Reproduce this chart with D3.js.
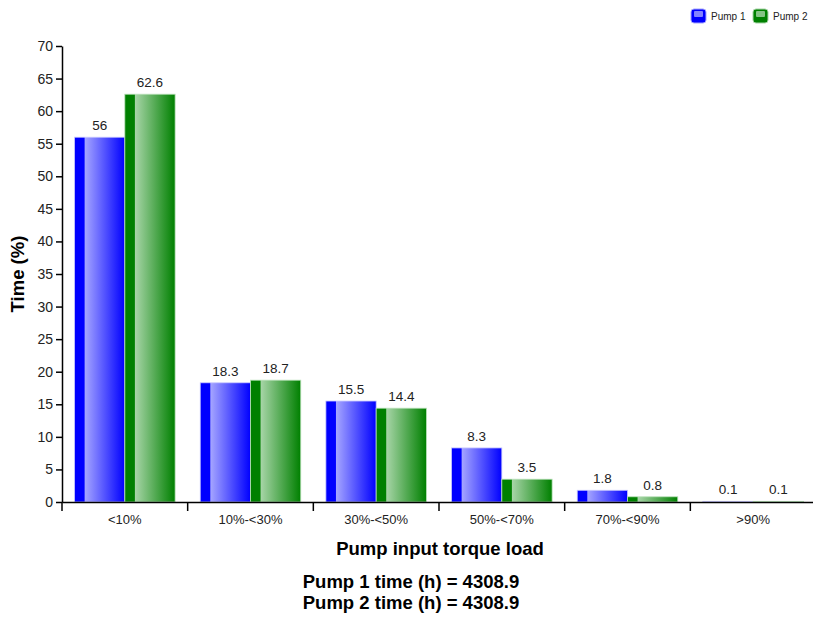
<!DOCTYPE html>
<html>
<head>
<meta charset="utf-8">
<script src="https://cdn.jsdelivr.net/npm/d3@7"></script>
<style>
  body { margin: 0; background: #fff; }
  svg { font-family: "Liberation Sans", Arial, sans-serif; }
  .axis text { font-size: 13px; fill: #222; }
  .axis path, .axis line { stroke: #000; stroke-width: 1.5; }
</style>
</head>
<body>
<svg id="chart"></svg>
<script>
// data
var categories = ["<10%", "10%-<30%", "30%-<50%", "50%-<70%", "70%-<90%", ">90%"];
var seriesNames = ["Pump 1", "Pump 2"];
var pump1 = [56, 18.3, 15.5, 8.3, 1.8, 0.1];
var pump2 = [62.6, 18.7, 14.4, 3.5, 0.8, 0.1];
var yTicks = [0, 5, 10, 15, 20, 25, 30, 35, 40, 45, 50, 55, 60, 65, 70];
var footerLines = ["Pump 1 time (h) = 4308.9", "Pump 2 time (h) = 4308.9"];

var svgWidth = 813, svgHeight = 617;
var margin = {top: 46, right: -3, bottom: 115, left: 62};
var width = svgWidth - margin.left - margin.right;
var height = svgHeight - margin.top - margin.bottom;

var colors = {
    "Pump 1": {dark: "#0000ff", light: "#a4a4ff", edge: "#c8c8ff"},
    "Pump 2": {dark: "#008000", light: "#a6d4a6", edge: "#b8e0b8"}
};

var svg = d3.select("#chart").attr("width", svgWidth).attr("height", svgHeight);
var defs = svg.append("defs");

seriesNames.forEach(function (s, i) {
    var grad = defs.append("linearGradient").attr("id", "grad" + i)
        .attr("x1", "0%").attr("x2", "100%").attr("y1", "0%").attr("y2", "0%");
    grad.append("stop").attr("offset", "0%").attr("stop-color", colors[s].dark);
    grad.append("stop").attr("offset", "19%").attr("stop-color", colors[s].dark);
    grad.append("stop").attr("offset", "21%").attr("stop-color", colors[s].light);
    grad.append("stop").attr("offset", "100%").attr("stop-color", colors[s].dark);
});

var g = svg.append("g").attr("transform", "translate(" + margin.left + "," + margin.top + ")");

var x = d3.scaleBand().domain(categories).range([0, width]).paddingInner(0.2).paddingOuter(0.1);
var xOuter = d3.scaleBand().domain(categories).range([0, width]);
var x1 = d3.scaleBand().domain(seriesNames).range([0, x.bandwidth()]);
var y = d3.scaleLinear().domain([0, 70]).range([height, 0]);

var rows = categories.map(function (c, i) {
    return {cat: c, values: [{s: "Pump 1", v: pump1[i]}, {s: "Pump 2", v: pump2[i]}]};
});

// bars
var groups = g.selectAll(".grp").data(rows).enter().append("g")
    .attr("transform", function (d) { return "translate(" + x(d.cat) + ",0)"; });

groups.selectAll("rect").data(function (d) { return d.values; }).enter().append("rect")
    .attr("x", function (d) { return x1(d.s); })
    .attr("y", function (d) { return y(d.v); })
    .attr("width", x1.bandwidth())
    .attr("height", function (d) { return height - y(d.v); })
    .attr("fill", function (d) { return "url(#grad" + seriesNames.indexOf(d.s) + ")"; })
    .attr("stroke", function (d) { return colors[d.s].edge; })
    .attr("stroke-width", 0.8);

// value labels
groups.selectAll(".val").data(function (d) { return d.values; }).enter().append("text")
    .attr("class", "val")
    .attr("x", function (d) { return x1(d.s) + x1.bandwidth() / 2; })
    .attr("y", function (d) { return y(d.v) - 7; })
    .attr("text-anchor", "middle")
    .style("font-size", "13.5px")
    .style("fill", "#222")
    .text(function (d) { return d.v; });

// x axis with ticks on band edges
var xAxis = g.append("g").attr("class", "axis").attr("transform", "translate(0," + height + ")")
    .call(d3.axisBottom(xOuter).tickSize(0).tickSizeOuter(0).tickPadding(13));
xAxis.selectAll(".edge").data(categories).enter().append("line")
    .attr("class", "edge")
    .attr("x1", function (d) { return xOuter(d); })
    .attr("x2", function (d) { return xOuter(d); })
    .attr("y1", 0).attr("y2", 9);

// y axis
g.append("g").attr("class", "axis")
    .call(d3.axisLeft(y).tickValues(yTicks).tickSize(6).tickSizeOuter(0).tickPadding(3))
    .selectAll(".tick text").style("font-size", "14px");

// axis titles
g.append("text")
    .attr("transform", "rotate(-90)")
    .attr("x", -height / 2).attr("y", -margin.left + 24)
    .attr("text-anchor", "middle")
    .style("font-size", "18.5px").style("font-weight", "bold")
    .text("Time (%)");

svg.append("text")
    .attr("x", 440).attr("y", 555)
    .attr("text-anchor", "middle")
    .style("font-size", "18.5px").style("font-weight", "bold")
    .text("Pump input torque load");

svg.selectAll(".foot").data(footerLines).enter().append("text")
    .attr("class", "foot")
    .attr("x", 411).attr("y", function (d, i) { return 588 + i * 21; })
    .attr("text-anchor", "middle")
    .style("font-size", "18.5px").style("font-weight", "bold")
    .text(function (d) { return d; });

// legend
var legend = svg.selectAll(".leg").data(seriesNames).enter().append("g")
    .attr("transform", function (d, i) { return "translate(" + (691 + i * 62) + ",9)"; });
legend.append("rect")
    .attr("width", 15).attr("height", 14).attr("rx", 3)
    .attr("fill", function (d) { return colors[d].dark; })
    .attr("stroke", function (d) { return colors[d].light; });
legend.append("rect")
    .attr("x", 3).attr("y", 2).attr("width", 9).attr("height", 6).attr("rx", 1)
    .attr("fill", function (d) { return colors[d].light; })
    .attr("opacity", 0.8);
legend.append("text")
    .attr("x", 20).attr("y", 11)
    .style("font-size", "10px").style("fill", "#222")
    .text(function (d) { return d; });
</script>
</body>
</html>
